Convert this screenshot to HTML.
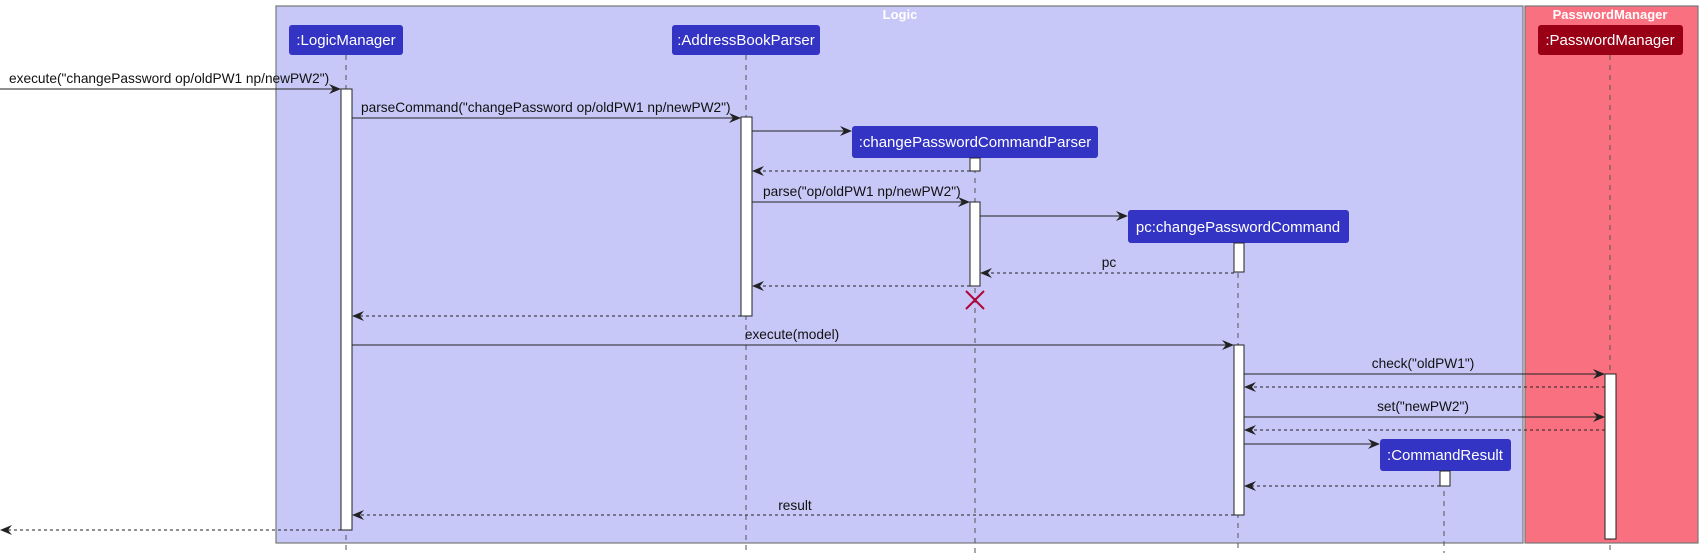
<!DOCTYPE html>
<html><head><meta charset="utf-8"><style>
html,body{margin:0;padding:0;background:#fff;}
svg{display:block;font-family:"Liberation Sans",sans-serif;}
</style></head><body>
<svg width="1701" height="553" viewBox="0 0 1701 553" xmlns="http://www.w3.org/2000/svg">
<defs>
<marker id="a" viewBox="0 0 12 10" refX="11" refY="5" markerWidth="12" markerHeight="10" orient="auto" markerUnits="userSpaceOnUse">
<path d="M0,0 L12,5 L0,10 L4,5 Z" fill="#222"/>
</marker>
</defs>
<rect x="276" y="6" width="1247" height="537" fill="#C8C8F8" stroke="#777" stroke-width="1.2"/>
<text x="900" y="19" text-anchor="middle" font-size="13" font-weight="bold" fill="#fff">Logic</text>
<rect x="1525" y="6" width="173" height="537" fill="#F97181" stroke="#777" stroke-width="1.2"/>
<text x="1610" y="19" text-anchor="middle" font-size="13" font-weight="bold" fill="#fff">PasswordManager</text>

<g stroke="#555" stroke-dasharray="5,5" stroke-width="1">
<line x1="346" y1="55" x2="346" y2="553"/>
<line x1="746" y1="55" x2="746" y2="553"/>
<line x1="975" y1="158" x2="975" y2="553"/>
<line x1="1238" y1="243" x2="1238" y2="553"/>
<line x1="1444" y1="471" x2="1444" y2="553"/>
<line x1="1610" y1="55" x2="1610" y2="553"/>
</g>

<g font-size="15" fill="#fff" text-anchor="middle">
<rect x="289" y="25" width="114" height="30" rx="3" fill="#3333C4"/>
<text x="346" y="45">:LogicManager</text>
<rect x="672" y="25" width="148" height="30" rx="3" fill="#3333C4"/>
<text x="746" y="45">:AddressBookParser</text>
<rect x="852" y="126" width="246" height="32" rx="3" fill="#3333C4"/>
<text x="975" y="147">:changePasswordCommandParser</text>
<rect x="1128" y="210" width="221" height="33" rx="3" fill="#3333C4"/>
<text x="1238" y="232">pc:changePasswordCommand</text>
<rect x="1380" y="439" width="131" height="32" rx="3" fill="#3333C4"/>
<text x="1445" y="460">:CommandResult</text>
<rect x="1538" y="25" width="145" height="30" rx="3" fill="#9A0015"/>
<text x="1610" y="45">:PasswordManager</text>
</g>

<g fill="#fff" stroke="#222" stroke-width="1">
<rect x="341" y="89" width="11" height="441"/>
<rect x="741" y="117" width="11" height="199"/>
<rect x="970" y="158" width="10" height="13"/>
<rect x="970" y="202" width="10" height="84"/>
<rect x="1234" y="243" width="10" height="29"/>
<rect x="1234" y="345" width="10" height="170"/>
<rect x="1440" y="471" width="10" height="15"/>
<rect x="1605" y="374" width="11" height="165"/>
</g>

<g stroke="#B0063A" stroke-width="2">
<line x1="966" y1="291" x2="984" y2="309"/>
<line x1="984" y1="291" x2="966" y2="309"/>
</g>

<g stroke="#222" stroke-width="1.1" fill="none">
<line x1="0" y1="89" x2="340" y2="89" marker-end="url(#a)"/>
<line x1="352" y1="118" x2="740" y2="118" marker-end="url(#a)"/>
<line x1="752" y1="131" x2="851" y2="131" marker-end="url(#a)"/>
<line x1="752" y1="202" x2="969" y2="202" marker-end="url(#a)"/>
<line x1="980" y1="216" x2="1127" y2="216" marker-end="url(#a)"/>
<line x1="352" y1="345" x2="1233" y2="345" marker-end="url(#a)"/>
<line x1="1244" y1="374" x2="1604" y2="374" marker-end="url(#a)"/>
<line x1="1244" y1="417" x2="1604" y2="417" marker-end="url(#a)"/>
<line x1="1244" y1="444" x2="1379" y2="444" marker-end="url(#a)"/>
</g>
<g stroke="#222" stroke-width="1" fill="none" stroke-dasharray="3,3">
<line x1="970" y1="171" x2="753" y2="171" marker-end="url(#a)"/>
<line x1="1234" y1="273" x2="981" y2="273" marker-end="url(#a)"/>
<line x1="970" y1="286" x2="753" y2="286" marker-end="url(#a)"/>
<line x1="741" y1="316" x2="353" y2="316" marker-end="url(#a)"/>
<line x1="1605" y1="387" x2="1245" y2="387" marker-end="url(#a)"/>
<line x1="1605" y1="430" x2="1245" y2="430" marker-end="url(#a)"/>
<line x1="1440" y1="486" x2="1245" y2="486" marker-end="url(#a)"/>
<line x1="1234" y1="515" x2="353" y2="515" marker-end="url(#a)"/>
<line x1="341" y1="530" x2="1" y2="530" marker-end="url(#a)"/>
</g>

<g font-size="13.7" fill="#111">
<text x="9" y="83">execute("changePassword op/oldPW1 np/newPW2")</text>
<text x="361" y="112">parseCommand("changePassword op/oldPW1 np/newPW2")</text>
<text x="763" y="196">parse("op/oldPW1 np/newPW2")</text>
<text x="1109" y="267" text-anchor="middle">pc</text>
<text x="792" y="339" text-anchor="middle">execute(model)</text>
<text x="1423" y="368" text-anchor="middle">check("oldPW1")</text>
<text x="1423" y="411" text-anchor="middle">set("newPW2")</text>
<text x="795" y="510" text-anchor="middle">result</text>
</g>
</svg>
</body></html>
